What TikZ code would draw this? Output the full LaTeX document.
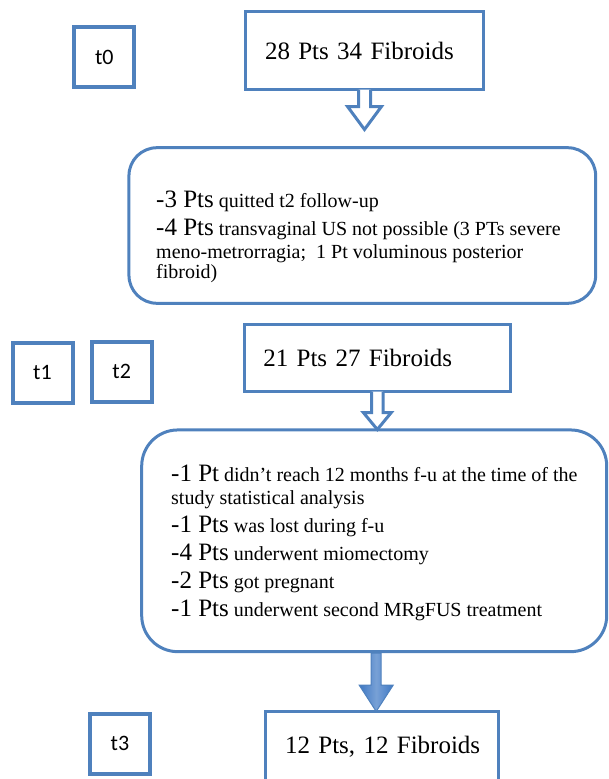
\documentclass[tikz,border=0pt]{standalone}
\usepackage{fontspec}
\setmainfont{Liberation Serif}
\newfontfamily\calfont{Carlito}
\usepackage{xcolor}
\usepackage{tikz}

\definecolor{ofblue}{HTML}{4F81BD}
\definecolor{arrowblue}{HTML}{3E78C4}
\newcommand{\ptsbig}[1]{{\fontsize{25}{23}\selectfont #1}}

\begin{document}
\begin{tikzpicture}[x=1pt,y=-1pt,
  stagebox/.style={draw=ofblue,line width=3pt,align=left,inner ysep=0pt,font=\fontsize{25}{28}\selectfont},
  timebox/.style={draw=ofblue,line width=4pt,minimum width=60pt,minimum height=60pt,inner sep=0pt,font=\calfont\fontsize{22}{24}\selectfont},
  dropbox/.style={draw=ofblue,line width=3pt,inner sep=0pt},
  droptext/.style={anchor=west,align=left,inner sep=0pt,font=\fontsize{20}{23}\selectfont},
  hollowarrow/.style={draw=ofblue,line width=3pt,fill=white,line join=miter},
  fullarrow/.style={draw=ofblue,line width=1pt,line join=miter,left color=arrowblue,right color=arrowblue,middle color=arrowblue!70!white}]
  \useasboundingbox (0,0) rectangle (609,779);

  % Time points
  \node[timebox] (t0) at (104.3,57.1) {t0};
  \node[timebox] (t1) at (42.5,372.8) {t1};
  \node[timebox] (t2) at (121.7,371.7) {t2};
  \node[timebox] (t3) at (120,743.5) {t3};

  % Patients at each step
  \node[stagebox,text width=199pt,inner xsep=19.5pt,minimum height=78pt] (start) at (364.5,50.5) {\mbox{28 Pts 34 Fibroids}};
  \node[stagebox,text width=228pt,inner xsep=19pt,minimum height=67.4pt] (mid) at (377.3,358) {\mbox{21 Pts 27 Fibroids}};
  \node[stagebox,text width=193.3pt,inner xsep=20pt,minimum height=72pt,text depth=6pt] (final) at (381.7,747.7) {\mbox{12 Pts, 12 Fibroids}};

  % Excluded patients
  \node[dropbox,rounded corners=28pt,minimum width=466.7pt,minimum height=155.6pt] (drop1) at (362.3,225.5) {};
  \node[droptext] (drop1txt) at (156,237) {\ptsbig{-3 Pts} quitted t2 follow-up\\[5pt]
    \ptsbig{-4 Pts} transvaginal US not possible (3 PTs severe\\
    meno-metrorragia;~ 1 Pt voluminous posterior\\[-3pt]
    fibroid)};

  \node[dropbox,rounded corners=36pt,minimum width=465pt,minimum height=221.7pt] (drop2) at (374.2,540.8) {};
  \node[droptext] (drop2txt) at (171,542.8) {\ptsbig{-1 Pt} didn’t reach 12 months f-u at the time of the\\
    study statistical analysis\\[5pt]
    \ptsbig{-1 Pts} was lost during f-u\\[5pt]
    \ptsbig{-4 Pts} underwent miomectomy\\[5pt]
    \ptsbig{-2 Pts} got pregnant\\[5pt]
    \ptsbig{-1 Pts} underwent second MRgFUS treatment};

  % Arrows
  \draw[hollowarrow] ([xshift=-6pt,yshift=1.5pt]start.south) -- ++(0,17) -- ++(-11,0) -- ++(17,23) -- ++(17,-23) -- ++(-11,0) -- ++(0,-17);
  \draw[hollowarrow] ([xshift=-5.8pt,yshift=1.5pt]mid.south) -- ++(0,20.8) -- ++(-8.2,0) -- ++(14,17) -- ++(14,-17) -- ++(-8.2,0) -- ++(0,-20.8);
  \draw[fullarrow] ([xshift=-3pt]drop2.south) -- ++(0,32) -- ++(-12,0) -- ++(17,26.3) -- ++(17,-26.3) -- ++(-12,0) -- ++(0,-32) -- cycle;
\end{tikzpicture}
\end{document}
